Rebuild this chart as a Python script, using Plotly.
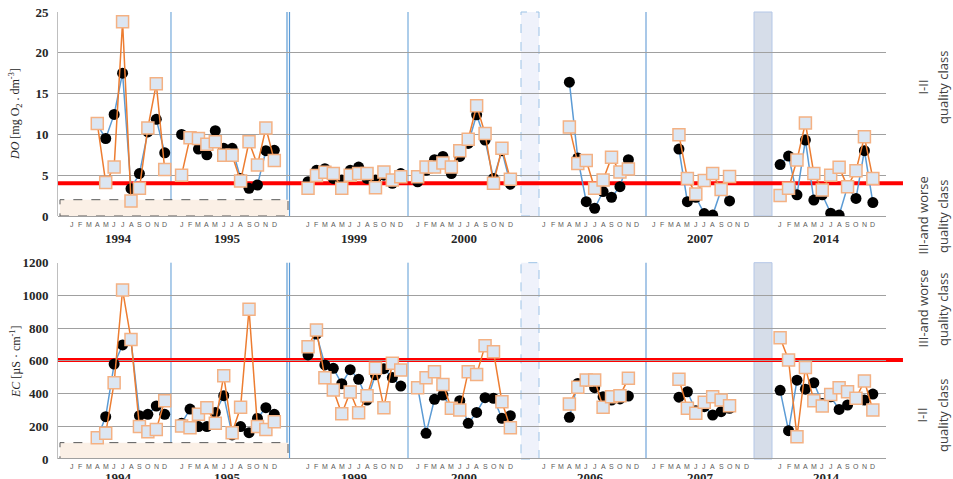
import plotly.graph_objects as go

# ---------------- data ----------------
years = ["1994", "1995", "1999", "2000", "2006", "2007", "2014"]
month_letters = ["J", "F", "M", "A", "M", "J", "J", "A", "S", "O", "N", "D"]
N = None

# Dissolved oxygen, circles (black) per year, Jan..Dec
do_circles = [
    [N, N, N, 11.2, 9.5, 12.45, 17.5, 3.35, 5.2, 10.3, 11.85, 7.75],
    [10.0, 9.7, 8.2, 7.5, 10.45, 8.3, 8.3, 4.6, 3.4, 3.8, 8.0, 8.05],
    [4.2, 5.6, 5.8, 4.6, 4.4, 5.6, 6.0, 4.6, 4.4, 5.0, 4.0, 5.2],
    [4.2, 5.6, 6.9, 7.3, 5.2, 7.3, 8.9, 12.4, 9.3, 4.6, 8.0, 3.9],
    [N, N, N, 16.4, 7.1, 1.75, 0.95, 3.0, 2.3, 3.6, 6.9, N],
    [N, N, N, 8.2, 1.75, 2.3, 0.3, 0.12, 3.2, 1.85, N, N],
    [6.3, 7.35, 2.6, 9.3, 1.95, 2.6, 0.35, 0.12, 3.6, 2.15, 8.0, 1.65],
]
# Dissolved oxygen, squares per year
do_squares = [
    [N, N, N, 11.35, 4.1, 6.0, 23.8, 1.85, 3.4, 10.8, 16.2, 5.7],
    [5.0, 9.6, 9.5, 8.8, 9.1, 7.45, 7.45, 4.3, 9.1, 6.25, 10.8, 6.8],
    [3.4, 4.95, 5.35, 5.2, 3.4, 5.0, 5.2, 5.2, 3.45, 5.4, 4.4, 4.8],
    [4.8, 6.0, 6.0, 6.5, 6.0, 8.0, 9.4, 13.5, 10.1, 4.0, 8.3, 4.5],
    [N, N, N, 10.9, 6.45, 6.8, 3.4, 4.4, 7.2, 5.4, 5.75, N],
    [N, N, N, 9.95, 4.6, 2.7, 4.35, 5.2, 3.25, 4.85, N, N],
    [2.5, 3.4, 6.86, 11.4, 5.2, 3.2, 5.0, 5.96, 3.6, 5.55, 9.7, 4.6],
]
# Electrical conductivity, circles per year
ec_circles = [
    [N, N, N, 125, 259, 580, 697, 727, 265, 273, 324, 273],
    [218, 305, 198, 198, 285, 387, 147, 198, 161, 248, 314, 273],
    [636, 764, 575, 554, 460, 546, 487, 360, 515, 552, 498, 446],
    [440, 157, 365, 391, 306, 356, 218, 285, 375, 371, 249, 265],
    [N, N, N, 255, 462, 477, 436, 381, 360, 367, 385, N],
    [N, N, N, 378, 411, 295, 320, 269, 289, 310, N, N],
    [420, 173, 482, 427, 466, 340, 380, 303, 330, 365, 360, 397],
]
# Electrical conductivity, squares per year
ec_squares = [
    [N, N, N, 130, 157, 466, 1033, 731, 198, 167, 181, 356],
    [202, 191, 273, 314, 218, 509, 161, 316, 915, 198, 181, 228],
    [686, 788, 497, 422, 277, 409, 283, 387, 554, 314, 585, 544],
    [436, 497, 534, 456, 310, 299, 534, 517, 693, 656, 350, 191],
    [N, N, N, 336, 438, 483, 483, 316, 381, 387, 493, N],
    [N, N, N, 488, 310, 279, 347, 381, 360, 326, N, N],
    [741, 605, 136, 560, 356, 324, 395, 436, 411, 371, 477, 300],
]
do_limit = 4
ec_limit = 605
do_low_band = 2
ec_low_band = 100

# ---------------- layout helpers ----------------
gap_after = [1, 3, 1, 3, 1, 3]   # empty month slots between year blocks
year_start = [0]
for g in gap_after:
    year_start.append(year_start[-1] + 12 + g)


def flatten(series):
    xs, ys = [], []
    for yi, vals in enumerate(series):
        for m, v in enumerate(vals):
            xs.append(year_start[yi] + m)
            ys.append(v)
        if yi < len(series) - 1:
            xs.append(year_start[yi] + 12)
            ys.append(None)
    return xs, ys


fig = go.Figure()

BLUE = "#5b9bd5"
ORANGE = "#ed7d31"


def add_pair(circ, sq, xa, ya):
    x1, y1 = flatten(circ)
    fig.add_trace(go.Scatter(x=x1, y=y1, mode="lines+markers", xaxis=xa, yaxis=ya,
                             line=dict(color=BLUE, width=1.5),
                             marker=dict(color="black", size=11, symbol="circle"),
                             connectgaps=False, showlegend=False, hoverinfo="y"))
    x2, y2 = flatten(sq)
    fig.add_trace(go.Scatter(x=x2, y=y2, mode="lines+markers", xaxis=xa, yaxis=ya,
                             line=dict(color=ORANGE, width=1.5),
                             marker=dict(color="#dce6f2", size=12, symbol="square",
                                         line=dict(color="#f4b183", width=1.5)),
                             connectgaps=False, showlegend=False, hoverinfo="y"))


add_pair(do_circles, do_squares, "x", "y")
add_pair(ec_circles, ec_squares, "x2", "y2")

xrange = [-1.66, 96.56]
top_dom = [0.5436, 1.0]
bot_dom = [0.0, 0.4392]

tickfont = dict(family="Liberation Serif", size=13, color="#262626", weight="bold")
common_x = dict(range=xrange, showgrid=False, zeroline=False, showline=False,
                showticklabels=False, ticks="", fixedrange=True, automargin=False)
common_y = dict(showgrid=True, gridcolor="#a0a0a0", gridwidth=1, zeroline=True,
                zerolinecolor="#a0a0a0", zerolinewidth=1, showline=True,
                linecolor="#bfbfbf", linewidth=1, ticks="", tickfont=tickfont,
                ticklabelstandoff=6, automargin=False, fixedrange=True)

fig.update_layout(
    width=953, height=479,
    margin=dict(l=58, r=67, t=12, b=20, autoexpand=False),
    paper_bgcolor="white", plot_bgcolor="rgba(0,0,0,0)",
    xaxis=dict(domain=[0, 1], anchor="y", **common_x),
    xaxis2=dict(domain=[0, 1], anchor="y2", **common_x),
    yaxis=dict(domain=top_dom, anchor="x", range=[0, 25], dtick=5, **common_y),
    yaxis2=dict(domain=bot_dom, anchor="x2", range=[0, 1200], dtick=200, **common_y),
    showlegend=False,
)


def px_to_idx(px):
    return (px - 72) / 8.43


shapes = []
for yd, ya, lim, band in [("y domain", "y", do_limit, do_low_band),
                          ("y2 domain", "y2", ec_limit, ec_low_band)]:
    xr = "x" if ya == "y" else "x2"
    # low dashed band
    shapes.append(dict(type="rect", xref=xr, yref=ya, x0=px_to_idx(60), x1=px_to_idx(288),
                       y0=0, y1=band, fillcolor="#fbf0e6",
                       line=dict(color="#595959", width=1, dash="dash"), layer="below"))
    # gap shading
    shapes.append(dict(type="rect", xref=xr, yref=yd, x0=px_to_idx(521), x1=px_to_idx(539),
                       y0=0, y1=1, fillcolor="#eff2fb",
                       line=dict(color="#9dc3e6", width=1, dash="dash"), layer="below"))
    shapes.append(dict(type="rect", xref=xr, yref=yd, x0=px_to_idx(754), x1=px_to_idx(772),
                       y0=0, y1=1, fillcolor="#d6dde9",
                       line=dict(color="#b4c7e7", width=1), layer="below"))
    # year separators
    for px, col, w in [(171, BLUE, 1), (287, BLUE, 1.2), (289.5, BLUE, 1.2),
                       (408, BLUE, 1), (646, "#a9c8e8", 2)]:
        shapes.append(dict(type="line", xref=xr, yref=yd, x0=px_to_idx(px), x1=px_to_idx(px),
                           y0=0, y1=1, line=dict(color=col, width=w), layer="below"))
    # limit line
    shapes.append(dict(type="line", xref="paper", yref=ya, x0=0, x1=1.0205, y0=lim, y1=lim,
                       line=dict(color="#ff0000", width=4), layer="below"))
fig.update_layout(shapes=shapes)

ann = []
for xr, y_m, y_y in [("x", 0.5257, 0.4944), ("x2", -0.0157, -0.0425)]:
    for yi, yr in enumerate(years):
        for m, ml in enumerate(month_letters):
            ann.append(dict(x=year_start[yi] + m, y=y_m, xref=xr, yref="paper", text=ml,
                            showarrow=False, font=dict(family="Liberation Sans", size=7,
                                                       color="#595959"),
                            xanchor="center", yanchor="middle"))
        ann.append(dict(x=year_start[yi] + 5.5, y=y_y, xref=xr, yref="paper", text=yr,
                        showarrow=False, font=dict(family="Liberation Serif", size=13,
                                                   color="#262626", weight="bold"),
                        xanchor="center", yanchor="middle"))

# axis titles
ann.append(dict(x=-0.0519, y=0.7718, xref="paper", yref="paper", textangle=-90,
                xanchor="center", yanchor="middle",
                text="<i>DO</i> [mg O<sub>2</sub> . dm<sup>-3</sup>]", showarrow=False,
                font=dict(family="Liberation Serif", size=12, color="#262626")))
ann.append(dict(x=-0.0519, y=0.217, xref="paper", yref="paper", textangle=-90,
                xanchor="center", yanchor="middle",
                text="<i>EC</i> [µS · cm<sup>-1</sup>]", showarrow=False,
                font=dict(family="Liberation Serif", size=12, color="#262626")))

# right-side class labels
side_font = dict(family="Open Sans", size=13, color="#404040")
for y, first in [(0.8322, "I-II"), (0.5436, "III-and worse"),
                 (0.3356, "III-and worse"), (0.0984, "I-II")]:
    ann.append(dict(x=1.0441, y=y, xref="paper", yref="paper", textangle=-90, text=first,
                    showarrow=False, font=side_font, xanchor="center", yanchor="middle"))
    ann.append(dict(x=1.0688, y=y, xref="paper", yref="paper", textangle=-90,
                    text="quality class", showarrow=False, font=side_font,
                    xanchor="center", yanchor="middle"))

fig.update_layout(annotations=ann)

fig.write_html("out.html",
               config={"displayModeBar": False},
               post_script="document.body.style.margin='0';"
                           "document.body.style.overflow='hidden';")
